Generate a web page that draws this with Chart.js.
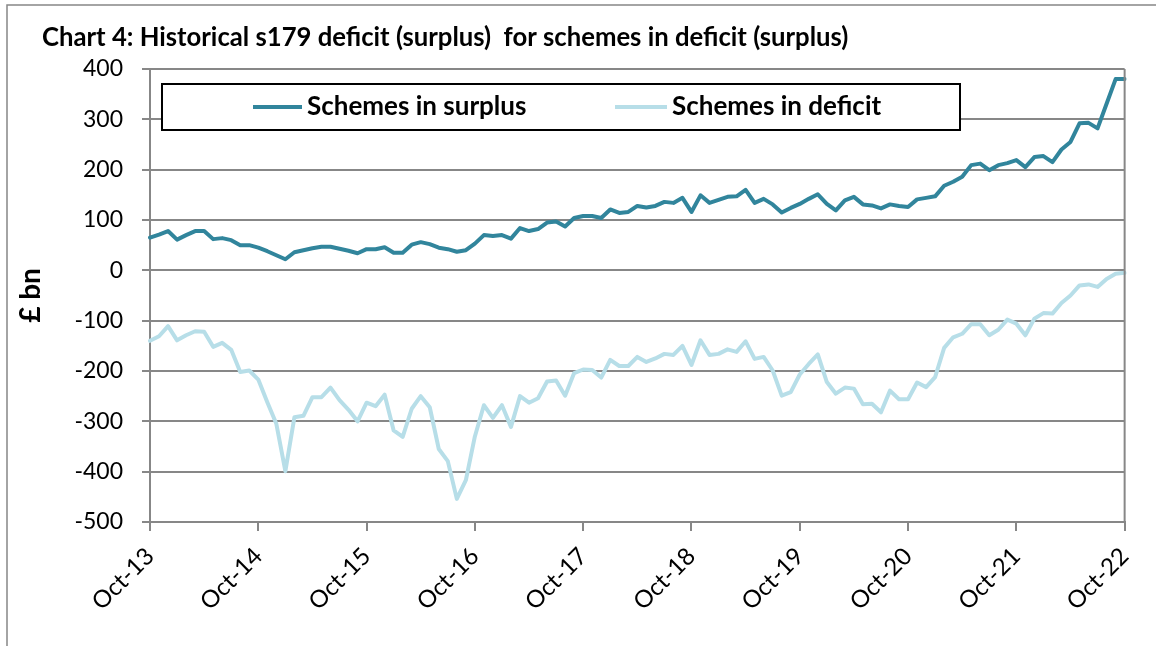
<!DOCTYPE html>
<html lang="en">
<head>
<meta charset="UTF-8">
<title>Chart 4: Historical s179 deficit (surplus)</title>
<script src="https://cdn.jsdelivr.net/npm/chart.js"></script>
<style>
  html, body { margin: 0; padding: 0; background: #fff; }
  #wrap { width: 1156px; height: 646px; }
</style>
</head>
<body>
<div id="wrap"><canvas id="chart4" width="1156" height="646"></canvas></div>
<script>
const chartTitle = 'Chart 4: Historical s179 deficit (surplus)  for schemes in deficit (surplus)';
const yTitle = '£ bn';
const yearTicks = ['Oct-13', 'Oct-14', 'Oct-15', 'Oct-16', 'Oct-17', 'Oct-18', 'Oct-19', 'Oct-20', 'Oct-21', 'Oct-22'];

// monthly categories Oct-13 .. Oct-22
const monthNames = ['Jan', 'Feb', 'Mar', 'Apr', 'May', 'Jun', 'Jul', 'Aug', 'Sep', 'Oct', 'Nov', 'Dec'];
const months = [];
for (let i = 0; i <= 108; i++) {
    const m = 9 + i;
    months.push(monthNames[m % 12] + '-' + (13 + Math.floor(m / 12)));
}

// £bn
const surplus = [
    65, 71, 78, 61, 70, 78, 78, 62, 64, 60,
    50, 50, 45, 38, 30, 22, 36, 40, 44, 47,
    47, 43, 39, 34, 42, 42, 46, 35, 35, 51,
    56, 52, 45, 42, 37, 40, 53, 70, 68, 70,
    63, 84, 78, 82, 95, 97, 87, 104, 108, 108,
    104, 121, 114, 116, 128, 125, 128, 136, 134, 144,
    116, 149, 134, 140, 146, 147, 160, 134, 142, 131,
    115, 124, 132, 142, 151, 132, 119, 139, 146, 131,
    129, 123, 131, 128, 126, 141, 144, 147, 168, 176,
    186, 209, 212, 199, 209, 213, 219, 205, 225, 227,
    215, 240, 255, 292, 293, 282, 331, 380, 380
];
const deficit = [
    -140, -131, -111, -139, -129, -121, -122, -152, -144, -158,
    -202, -199, -217, -262, -305, -399, -292, -289, -252, -252,
    -233, -258, -277, -300, -263, -270, -247, -318, -331, -275,
    -250, -272, -355, -379, -454, -417, -330, -268, -293, -268,
    -311, -250, -263, -254, -221, -219, -249, -204, -197, -198,
    -213, -178, -190, -190, -172, -182, -175, -166, -168, -150,
    -188, -139, -168, -166, -157, -162, -141, -176, -172, -199,
    -249, -242, -207, -186, -167, -222, -245, -233, -235, -266,
    -265, -282, -239, -256, -256, -223, -232, -212, -154, -133,
    -126, -107, -107, -129, -118, -98, -106, -129, -96, -85,
    -86, -65, -50, -30, -28, -33, -17, -7, -5
];

const FONT = 'Lato, "Open Sans", sans-serif';
const GREY = '#878787';

// outer frame, title, boxed legend and right border of the plot area
const decor = {
    id: 'decor',
    beforeDraw(chart) {
        const ctx = chart.ctx;
        ctx.save();
        ctx.strokeStyle = GREY;
        ctx.lineWidth = 1.5;
        ctx.beginPath();
        ctx.moveTo(7, chart.height);
        ctx.lineTo(7, 5);
        ctx.lineTo(chart.width, 5);
        ctx.stroke();
        ctx.restore();
    },
    afterDraw(chart) {
        const ctx = chart.ctx;
        const a = chart.chartArea;
        ctx.save();
        ctx.strokeStyle = GREY;
        ctx.lineWidth = 2;
        ctx.beginPath();
        ctx.moveTo(a.right, a.top);
        ctx.lineTo(a.right, a.bottom);
        ctx.stroke();

        ctx.fillStyle = '#000';
        ctx.textBaseline = 'middle';
        ctx.textAlign = 'left';
        ctx.font = 'bold 25.7px ' + FONT;
        ctx.fillText(chartTitle, 42, 38);

        // legend box
        ctx.fillStyle = '#fff';
        ctx.fillRect(162, 84, 798, 46);
        ctx.strokeStyle = '#000';
        ctx.lineWidth = 2;
        ctx.strokeRect(162, 84, 798, 46);
        const items = [[253, 302, 307], [615, 667, 672]];
        chart.data.datasets.forEach((ds, k) => {
            const [x0, x1, tx] = items[k];
            ctx.strokeStyle = ds.borderColor;
            ctx.lineWidth = 4;
            ctx.beginPath();
            ctx.moveTo(x0, 107);
            ctx.lineTo(x1, 107);
            ctx.stroke();
            ctx.fillStyle = '#000';
            ctx.font = 'bold 26px ' + FONT;
            ctx.fillText(ds.label, tx, 107);
        });
        ctx.restore();
    }
};

new Chart(document.getElementById('chart4'), {
    type: 'line',
    data: {
        labels: months,
        datasets: [
            { label: 'Schemes in surplus', data: surplus, borderColor: '#31859c', borderWidth: 4 },
            { label: 'Schemes in deficit', data: deficit, borderColor: '#b7dee8', borderWidth: 4 }
        ]
    },
    options: {
        responsive: false,
        animation: false,
        elements: { point: { radius: 0 }, line: { tension: 0, borderCapStyle: 'round', borderJoinStyle: 'round' } },
        layout: { padding: { top: 69, right: 31, bottom: 14, left: 0 } },
        plugins: { legend: { display: false }, tooltip: { enabled: false } },
        scales: {
            x: {
                afterFit(scale) { scale.height = 110; },
                grid: {
                    drawOnChartArea: false,
                    tickLength: 9,
                    lineWidth: 2,
                    color: ctx => (ctx.tick && yearTicks.includes(months[ctx.tick.value])) ? GREY : 'rgba(0,0,0,0)'
                },
                border: { color: GREY, width: 2 },
                ticks: {
                    autoSkip: false,
                    minRotation: 45,
                    maxRotation: 45,
                    padding: 11,
                    color: '#000',
                    font: { family: FONT, size: 24 },
                    callback(val) {
                        const lab = this.getLabelForValue(val);
                        return yearTicks.includes(lab) ? lab : '';
                    }
                }
            },
            y: {
                min: -500,
                max: 400,
                afterFit(scale) { scale.width = 150; },
                grid: { color: GREY, lineWidth: 2, tickLength: 8 },
                border: { color: GREY, width: 2 },
                ticks: {
                    stepSize: 100,
                    padding: 19,
                    color: '#000',
                    font: { family: FONT, size: 23 }
                },
                title: {
                    display: true,
                    text: yTitle,
                    color: '#000',
                    font: { family: FONT, size: 28, weight: 'bold' },
                    padding: { top: 14, bottom: 0 }
                }
            }
        }
    },
    plugins: [decor]
});
</script>
</body>
</html>
